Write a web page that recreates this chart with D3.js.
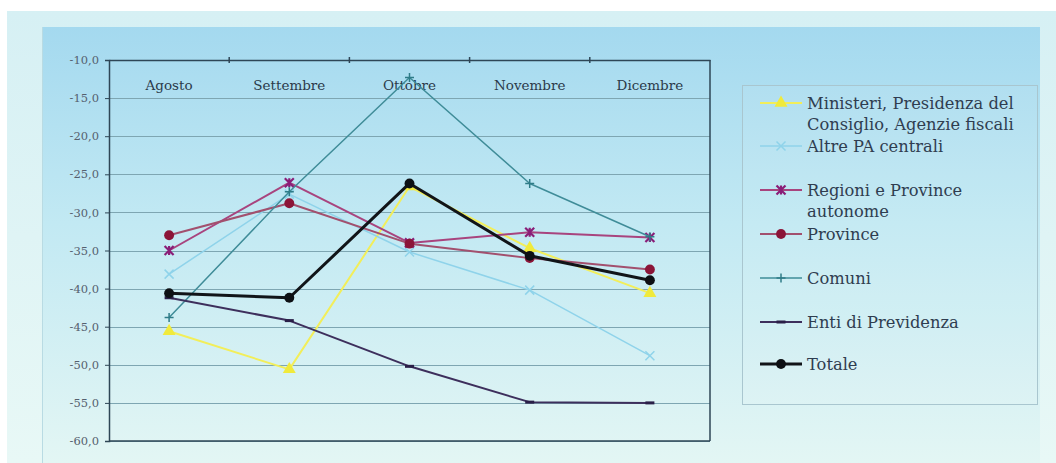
<!DOCTYPE html>
<html><head><meta charset="utf-8">
<script src="https://cdn.jsdelivr.net/npm/d3@7"></script>
<style>html,body{margin:0;padding:0;background:#fff;}svg{display:block;}</style>
</head><body>
<svg id="c" width="1056" height="463"></svg>
<script>
const months = ["Agosto", "Settembre", "Ottobre", "Novembre", "Dicembre"];
const yTicks = [-10, -15, -20, -25, -30, -35, -40, -45, -50, -55, -60];
const seriesNames = [
  ["Ministeri, Presidenza del", "Consiglio, Agenzie fiscali"],
  ["Altre PA centrali"],
  ["Regioni e Province", "autonome"],
  ["Province"],
  ["Comuni"],
  ["Enti di Previdenza"],
  ["Totale"]
];
const ministeri = [-45.6, -50.6, -26.6, -34.7, -40.6];
const altrePA   = [-38.1, -27.6, -35.2, -40.2, -48.8];
const regioni   = [-35.0, -26.1, -34.0, -32.6, -33.3];
const province  = [-33.0, -28.8, -34.1, -36.0, -37.5];
const comuni    = [-43.8, -27.3, -12.3, -26.2, -33.2];
const enti      = [-41.2, -44.2, -50.2, -54.9, -55.0];
const totale    = [-40.6, -41.2, -26.2, -35.7, -38.9];

const seriesValues = [ministeri, altrePA, regioni, province, comuni, enti, totale];
const styles = [
  {color:"#f2ee5a", w:2,   marker:"tri",  mcolor:"#f0ea3c"},
  {color:"#8fd3ea", w:1.5, marker:"x",    mcolor:"#8fd3ea"},
  {color:"#a8447e", w:2,   marker:"ast",  mcolor:"#8a1e78"},
  {color:"#a2506e", w:2,   marker:"circ", mcolor:"#8b1538"},
  {color:"#3f8c98", w:1.5, marker:"plus", mcolor:"#2f7c88"},
  {color:"#3d2f5c", w:2,   marker:"dash", mcolor:"#2a1f48"},
  {color:"#111418", w:3,   marker:"circ", mcolor:"#0d1014"}
];
const FONT = "DejaVu Serif, serif";

const svg = d3.select("#c");
const defs = svg.append("defs");
const g1 = defs.append("linearGradient").attr("id","inner").attr("x1",0).attr("y1",0).attr("x2",0).attr("y2",1);
g1.append("stop").attr("offset","0%").attr("stop-color","#a4d9ef");
g1.append("stop").attr("offset","45%").attr("stop-color","#c2e9f3");
g1.append("stop").attr("offset","100%").attr("stop-color","#e3f6f4");
const g2 = defs.append("linearGradient").attr("id","outer").attr("x1",0).attr("y1",0).attr("x2",0).attr("y2",1);
g2.append("stop").attr("offset","0%").attr("stop-color","#d6f0f4");
g2.append("stop").attr("offset","100%").attr("stop-color","#e8f8f6");

svg.append("rect").attr("x",7).attr("y",11).attr("width",1049).attr("height",452).attr("fill","url(#outer)");
svg.append("rect").attr("x",42).attr("y",27).attr("width",998).attr("height",436).attr("fill","url(#inner)");
svg.append("line").attr("x1",42.5).attr("x2",42.5).attr("y1",27).attr("y2",463).attr("stroke","#b9dbe3");

const L = 109, R = 710, T = 60, B = 441;
const x = d3.scaleBand().domain(months).range([L, R]);
const y = d3.scaleLinear().domain([-60, -10]).range([B, T]);

// gridlines
svg.append("g").selectAll("line").data(yTicks).join("line")
  .attr("x1", L).attr("x2", R).attr("y1", d => Math.round(y(d))+0.5).attr("y2", d => Math.round(y(d))+0.5)
  .attr("stroke", "#7ea6b2").attr("stroke-width", 1);

// y axis
const yAxis = svg.append("g").attr("transform", `translate(${L},0)`)
  .call(d3.axisLeft(y).tickValues(yTicks).tickSize(4).tickFormat(d => d3.format(".1f")(d).replace(".", ",").replace("\u2212", "-")));
yAxis.select(".domain").attr("stroke", "#2e4656").attr("stroke-width", 1.5);
yAxis.selectAll(".tick line").attr("stroke", "#2e4656");
yAxis.selectAll("text").attr("font-family", FONT).attr("font-size", 11.5).attr("fill", "#55606e").attr("x", -10);

// x axis at top (crosses at -10)
const xAxis = svg.append("g").attr("transform", `translate(0,${T})`)
  .call(d3.axisTop(x).tickSize(0).tickSizeOuter(0));
xAxis.select(".domain").attr("stroke", "#2e4656").attr("stroke-width", 1.5);
xAxis.selectAll(".tick text").attr("font-family", FONT).attr("font-size", 13.5)
  .attr("fill", "#2b3a4a").attr("dy", 0).attr("y", 30);
// category boundary ticks
svg.append("g").selectAll("line").data(months.slice(1)).join("line")
  .attr("x1", d => x(d)).attr("x2", d => x(d)).attr("y1", T - 3).attr("y2", T + 3)
  .attr("stroke", "#2e4656").attr("stroke-width", 1.5);
// right & bottom frame
svg.append("line").attr("x1", R).attr("x2", R).attr("y1", T).attr("y2", B).attr("stroke", "#2e4656").attr("stroke-width", 1.5);
svg.append("line").attr("x1", L).attr("x2", R).attr("y1", B).attr("y2", B).attr("stroke", "#2e4656").attr("stroke-width", 1.5);

function drawMarker(sel, type, color, size) {
  const s = size;
  if (type === "circ") sel.append("circle").attr("r", s*0.55).attr("fill", color);
  else if (type === "tri") sel.append("path").attr("d", d3.symbol(d3.symbolTriangle, s*s*0.9)()).attr("fill", color);
  else if (type === "x") sel.append("path").attr("d", `M${-s/2},${-s/2}L${s/2},${s/2}M${-s/2},${s/2}L${s/2},${-s/2}`).attr("stroke", color).attr("stroke-width", 1.5);
  else if (type === "plus") sel.append("path").attr("d", `M${-s/2},0L${s/2},0M0,${-s/2}L0,${s/2}`).attr("stroke", color).attr("stroke-width", 1.5);
  else if (type === "ast") sel.append("path").attr("d", `M${-s/2},${-s/2}L${s/2},${s/2}M${-s/2},${s/2}L${s/2},${-s/2}M0,${-s/2}L0,${s/2}`).attr("stroke", color).attr("stroke-width", 2.2);
  else if (type === "dash") sel.append("path").attr("d", `M${-s/2},0L${s/2},0`).attr("stroke", color).attr("stroke-width", 3);
}

const line = d3.line().x((d, i) => x(months[i]) + x.bandwidth()/2).y(d => y(d));
seriesValues.forEach((vals, si) => {
  const st = styles[si];
  const g = svg.append("g");
  g.append("path").datum(vals).attr("d", line).attr("fill", "none")
    .attr("stroke", st.color).attr("stroke-width", st.w).attr("stroke-linejoin", "round");
  vals.forEach((v, i) => {
    const m = g.append("g").attr("transform", `translate(${x(months[i]) + x.bandwidth()/2},${y(v)})`);
    drawMarker(m, st.marker, st.mcolor, 9);
  });
});

// legend
svg.append("rect").attr("x", 742.5).attr("y", 85.5).attr("width", 295).attr("height", 319)
  .attr("fill", "#ffffff").attr("fill-opacity", 0.06).attr("stroke", "#a9c6cf").attr("stroke-width", 1);
const legY = [103, 146, 190, 234, 278, 322, 364];
seriesNames.forEach((lines, si) => {
  const st = styles[si];
  const yy = legY[si];
  const g = svg.append("g");
  g.append("line").attr("x1", 760).attr("x2", 802).attr("y1", yy).attr("y2", yy).attr("stroke", st.color).attr("stroke-width", st.w);
  const m = g.append("g").attr("transform", `translate(781,${yy})`);
  drawMarker(m, st.marker, st.mcolor, 9);
  lines.forEach((t, j) => {
    g.append("text").attr("x", 807).attr("y", yy + j * 21 + 5.5).text(t)
      .attr("font-family", FONT).attr("font-size", 16.3).attr("fill", "#2f3d50");
  });
});
</script>
</body></html>
